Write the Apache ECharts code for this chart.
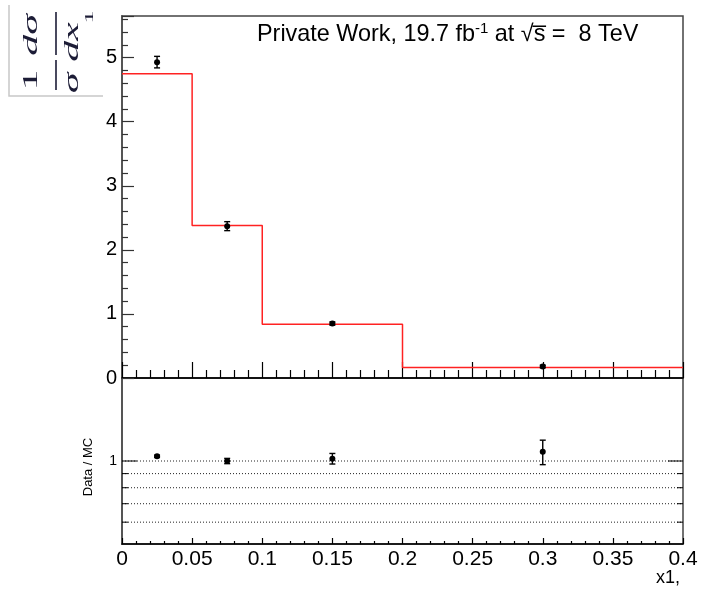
<!DOCTYPE html>
<html>
<head>
<meta charset="utf-8">
<script src="https://cdn.jsdelivr.net/npm/echarts@6/dist/echarts.min.js"></script>
<style>
  html, body { margin: 0; padding: 0; background: #fff; }
  #chart { width: 701px; height: 589px; }
</style>
</head>
<body>
<div id="chart"></div>
<script>
// x1 bin edges and the simulated (MC) normalised cross section in each bin
const binEdges = [0, 0.05, 0.1, 0.2, 0.4];
const mcValues = [4.75, 2.38, 0.84, 0.165];

// measured points: bin centres, values, uncertainties
const dataX = [0.025, 0.075, 0.15, 0.3];
const dataY = [4.93, 2.37, 0.85, 0.18];
const dataErr = [0.09, 0.07, 0.025, 0.02];

// data / MC ratio and its uncertainty
const ratioY = [1.04, 1.00, 1.02, 1.08];
const ratioErr = [0.01, 0.022, 0.045, 0.11];

// reference lines of the ratio panel and the ones carrying a label
const ratioLines = [1, 0.9, 0.8, 0.7, 0.6];
const ratioLabelValues = [1];
const ratioLabelTexts = ['1'];

const X_MIN = 0, X_MAX = 0.4;
const FONT = '"Liberation Sans", Arial, sans-serif';
const SERIF = '"Liberation Serif", "DejaVu Serif", serif';

// step outline of the MC histogram
const mcStep = binEdges.map((e, i) => [e, mcValues[Math.min(i, mcValues.length - 1)]]);

const pointData = dataX.map((x, i) => [x, dataY[i], dataErr[i]]);
const ratioData = dataX.map((x, i) => [x, ratioY[i], ratioErr[i]]);
const ratioLineData = ratioLines.map(v => [X_MIN, v]);

// marker with vertical error bar and small caps
function errorBarItem(params, api) {
  const x = api.value(0), y = api.value(1), e = api.value(2);
  const c = api.coord([x, y]);
  const hi = api.coord([x, y + e]);
  const lo = api.coord([x, y - e]);
  const cap = 3;
  const st = { stroke: '#000', lineWidth: 1.4 };
  return {
    type: 'group',
    children: [
      { type: 'line', shape: { x1: c[0], y1: hi[1], x2: c[0], y2: lo[1] }, style: st },
      { type: 'line', shape: { x1: c[0] - cap, y1: hi[1], x2: c[0] + cap, y2: hi[1] }, style: st },
      { type: 'line', shape: { x1: c[0] - cap, y1: lo[1], x2: c[0] + cap, y2: lo[1] }, style: st },
      { type: 'circle', shape: { cx: c[0], cy: c[1], r: 3 }, style: { fill: '#000' } }
    ]
  };
}

// dotted reference line with ticks on both frame sides
function ratioLineItem(params, api) {
  const v = api.value(1);
  const l = api.coord([X_MIN, v]);
  const r = api.coord([X_MAX, v]);
  const li = ratioLabelValues.indexOf(v);
  const len = li >= 0 ? 15 : 6;
  const children = [
    { type: 'line', shape: { x1: l[0], y1: l[1], x2: r[0], y2: r[1] },
      style: { stroke: '#222', lineWidth: 1, lineDash: [1, 2] } },
    { type: 'line', shape: { x1: l[0], y1: l[1], x2: l[0] + len, y2: l[1] },
      style: { stroke: '#000', lineWidth: 1 } },
    { type: 'line', shape: { x1: r[0] - len, y1: r[1], x2: r[0], y2: r[1] },
      style: { stroke: '#000', lineWidth: 1 } }
  ];
  if (li >= 0) {
    children.push({ type: 'text', x: l[0] - 5, y: l[1],
      style: { text: ratioLabelTexts[li], align: 'right', verticalAlign: 'middle',
               font: '14px ' + FONT, fill: '#000' } });
  }
  return { type: 'group', children };
}

const chart = echarts.init(document.getElementById('chart'), null, { renderer: 'canvas' });

const ink = '#1c1c36';
const formulaFont = '21px ' + SERIF;
const formulaItalic = 'italic 21px ' + SERIF;

chart.setOption({
  animation: false,
  backgroundColor: '#fff',
  title: [
    {
      left: 257, top: 21, padding: 0,
      text: '{t|Private Work, 19.7 fb}{s|-1}{t| at \u221As\u0305 =  8 TeV}',
      textStyle: {
        fontWeight: 'normal',
        rich: {
          t: { fontFamily: FONT, fontSize: 23.4, fontWeight: 'normal', color: '#000', lineHeight: 28 },
          s: { fontFamily: FONT, fontSize: 15, fontWeight: 'normal', color: '#000', verticalAlign: 'top', lineHeight: 28 }
        }
      }
    },
    {
      right: 21, top: 569, padding: 0,
      text: 'x1,',
      textStyle: { fontFamily: FONT, fontSize: 18, fontWeight: 'normal', color: '#000' }
    }
  ],
  graphic: [
    { type: 'polyline', shape: { points: [[9, 5], [9, 96], [103, 96]] },
      style: { stroke: '#c8c8c8', lineWidth: 1.5, fill: null } },
    {
      // (1/sigma) d sigma / d x_1, written along the axis
      type: 'group', x: 0, y: 100, rotation: Math.PI / 2, scaleX: 2, scaleY: 1,
      children: [
        { type: 'text', x: 10, y: 31, style: { text: '1', font: formulaFont, fill: ink, align: 'center', verticalAlign: 'middle' } },
        { type: 'text', x: 32.5, y: 31, style: { text: 'd\u03C3', font: formulaItalic, fill: ink, align: 'center', verticalAlign: 'middle' } },
        { type: 'line', shape: { x1: 5, y1: 56, x2: 20, y2: 56 }, style: { stroke: ink, lineWidth: 1.6 } },
        { type: 'line', shape: { x1: 22.5, y1: 56, x2: 44, y2: 56 }, style: { stroke: ink, lineWidth: 1.6 } },
        { type: 'text', x: 8.5, y: 72, style: { text: '\u03C3', font: formulaItalic, fill: ink, align: 'center', verticalAlign: 'middle' } },
        { type: 'text', x: 29, y: 72, style: { text: 'dx', font: formulaItalic, fill: ink, align: 'center', verticalAlign: 'middle' } },
        { type: 'text', x: 41.5, y: 90, style: { text: '1', font: '13px ' + SERIF, fill: ink, align: 'center', verticalAlign: 'middle' } }
      ]
    }
  ],
  grid: [
    { left: 122, right: 18, top: 16, height: 362, show: true, borderColor: '#444', borderWidth: 1.5, outerBoundsMode: 'none' },
    { left: 122, right: 18, top: 378, height: 166, show: true, borderColor: '#444', borderWidth: 1.5, outerBoundsMode: 'none' }
  ],
  xAxis: [
    {
      gridIndex: 0, type: 'value', min: X_MIN, max: X_MAX, interval: 0.05,
      axisLine: { show: true, lineStyle: { color: '#000', width: 1.5 } },
      axisTick: { show: true, inside: true, length: 16, lineStyle: { color: '#000', width: 1.2 } },
      minorTick: { show: true, splitNumber: 5, length: 8, lineStyle: { color: '#000', width: 1.2 } },
      axisLabel: { show: false },
      splitLine: { show: false }
    },
    {
      gridIndex: 1, type: 'value', min: X_MIN, max: X_MAX, interval: 0.05,
      axisLine: { show: true, lineStyle: { color: '#000', width: 1.5 } },
      axisTick: { show: true, inside: true, length: 6, lineStyle: { color: '#000', width: 1.2 } },
      minorTick: { show: true, splitNumber: 5, length: 3, lineStyle: { color: '#000', width: 1.2 } },
      axisLabel: { show: true, margin: 5, fontFamily: FONT, fontSize: 21, color: '#000', showMinLabel: true, showMaxLabel: true, hideOverlap: false },
      splitLine: { show: false }
    }
  ],
  yAxis: [
    {
      gridIndex: 0, type: 'value', min: 0, max: 5.65, interval: 1,
      axisLine: { show: true, lineStyle: { color: '#555', width: 2 } },
      axisTick: { show: true, inside: true, length: 12, lineStyle: { color: '#333', width: 1.2 } },
      minorTick: { show: true, splitNumber: 5, length: 6, lineStyle: { color: '#333', width: 1.2 } },
      axisLabel: { show: true, margin: 5, padding: [4, 0, 0, 0], fontFamily: FONT, fontSize: 20, color: '#000', showMaxLabel: false },
      splitLine: { show: false }
    },
    {
      gridIndex: 1, type: 'log', logBase: 10, min: 0.5, max: 2,
      axisLine: { show: true, lineStyle: { color: '#555', width: 2 } },
      axisTick: { show: false },
      axisLabel: { show: false },
      splitLine: { show: false },
      name: 'Data / MC', nameLocation: 'middle', nameGap: 27, nameRotate: 90,
      nameTextStyle: { fontFamily: FONT, fontSize: 13, color: '#000', padding: [0, 12, 0, 0] }
    }
  ],
  series: [
    {
      type: 'line', xAxisIndex: 0, yAxisIndex: 0, step: 'end', data: mcStep,
      showSymbol: false, symbol: 'none', silent: true,
      lineStyle: { color: '#f22', width: 1.5 }, z: 2
    },
    {
      type: 'custom', xAxisIndex: 0, yAxisIndex: 0, data: pointData,
      renderItem: errorBarItem, encode: { x: 0, y: 1 }, z: 3
    },
    {
      type: 'custom', xAxisIndex: 1, yAxisIndex: 1, data: ratioLineData,
      renderItem: ratioLineItem, encode: { x: 0, y: 1 }, z: 2
    },
    {
      type: 'custom', xAxisIndex: 1, yAxisIndex: 1, data: ratioData,
      renderItem: errorBarItem, encode: { x: 0, y: 1 }, z: 3
    }
  ]
});
</script>
</body>
</html>
